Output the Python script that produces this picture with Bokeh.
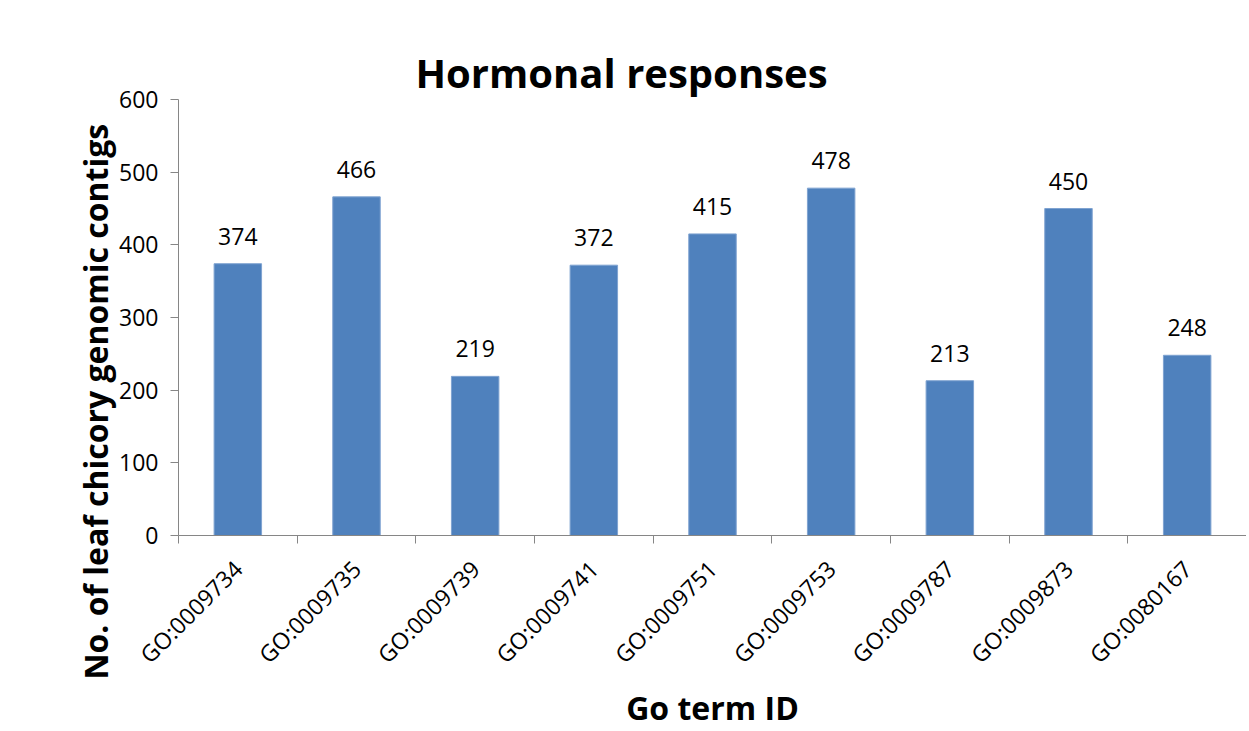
from math import pi
from bokeh.plotting import figure
from bokeh.models import (ColumnDataSource, LabelSet, Range1d, LinearAxis, FixedTicker, Title)
from bokeh.core.properties import value
from bokeh.embed import file_html
from bokeh.resources import INLINE

categories = ["GO:0009734", "GO:0009735", "GO:0009739", "GO:0009741", "GO:0009751",
              "GO:0009753", "GO:0009787", "GO:0009873", "GO:0080167"]
counts = [374, 466, 219, 372, 415, 478, 213, 450, 248]
y_ticks = [0, 100, 200, 300, 400, 500, 600]

FONT = "Open Sans"
AXIS_COLOR = "#868686"
BAR_COLOR = "#4F81BD"

n = len(categories)
centers = [i + 0.5 for i in range(n)]
edges = list(range(n + 1))
src = ColumnDataSource(dict(x=centers, val=counts, lbl=[str(v) for v in counts]))

p = figure(x_range=Range1d(0, n), y_range=Range1d(0, 600), width=1246, height=731,
           output_backend="svg", toolbar_location=None, x_axis_location=None,
           min_border_left=178, min_border_right=0, min_border_top=99, min_border_bottom=196)
p.outline_line_color = None
p.grid.visible = False

p.vbar(x="x", top="val", width=0.4, source=src, fill_color=BAR_COLOR,
       line_color="#7fa3d1", line_width=1)

labels = LabelSet(x="x", y="val", text="lbl", source=src, text_align="center",
                  text_baseline="alphabetic", y_offset=19, text_font=value(FONT),
                  text_font_size="23px", text_color="black")
p.add_layout(labels)

# y axis
ya = p.yaxis[0]
ya.ticker = FixedTicker(ticks=y_ticks)
ya.axis_line_color = AXIS_COLOR
ya.major_tick_line_color = AXIS_COLOR
ya.major_tick_out = 8
ya.major_tick_in = 0
ya.minor_tick_line_color = None
ya.major_label_standoff = 12
ya.major_label_text_font = FONT
ya.major_label_text_font_size = "23px"
ya.major_label_text_color = "black"

# x axis: labels at bar centres, tick marks at category boundaries
xa = LinearAxis(ticker=FixedTicker(ticks=centers, minor_ticks=edges),
                major_label_overrides={c: name for c, name in zip(centers, categories)})
xa.axis_line_color = AXIS_COLOR
xa.major_tick_line_color = None
xa.major_tick_out = 8
xa.major_tick_in = 0
xa.minor_tick_line_color = AXIS_COLOR
xa.minor_tick_out = 8
xa.minor_tick_in = 0
xa.major_label_orientation = pi / 4
xa.major_label_standoff = 21
xa.major_label_text_font = FONT
xa.major_label_text_font_size = "23px"
xa.major_label_text_color = "black"
xa.axis_label = "Go term ID"
xa.axis_label_text_font = FONT
xa.axis_label_text_font_size = "32px"
xa.axis_label_text_font_style = "bold"
xa.axis_label_text_color = "black"
xa.axis_label_standoff = 2
p.add_layout(xa, "below")


def spacer(size):
    # an empty axis (no ticks, no labels) that only reserves room
    ax = LinearAxis(ticker=FixedTicker(ticks=[]))
    ax.axis_line_color = None
    ax.major_tick_line_color = "white"
    ax.minor_tick_line_color = None
    ax.major_tick_out = size
    ax.major_tick_in = 0
    ax.major_label_standoff = 0
    return ax


# chart title (a blank spacer sits between it and the plot area)
p.add_layout(spacer(42), "above")
p.add_layout(Title(text="Hormonal responses", text_font=FONT, text_font_size="40px",
                   text_font_style="bold", text_color="black", align="left",
                   offset=237, standoff=0), "above")

# y axis title
p.add_layout(spacer(70), "left")
p.add_layout(Title(text="No. of leaf chicory genomic contigs", text_font=FONT,
                   text_font_size="32px", text_font_style="bold", text_color="black",
                   align="left", offset=-144, standoff=0), "left")

open("out.html", "w").write(file_html(p, INLINE))
